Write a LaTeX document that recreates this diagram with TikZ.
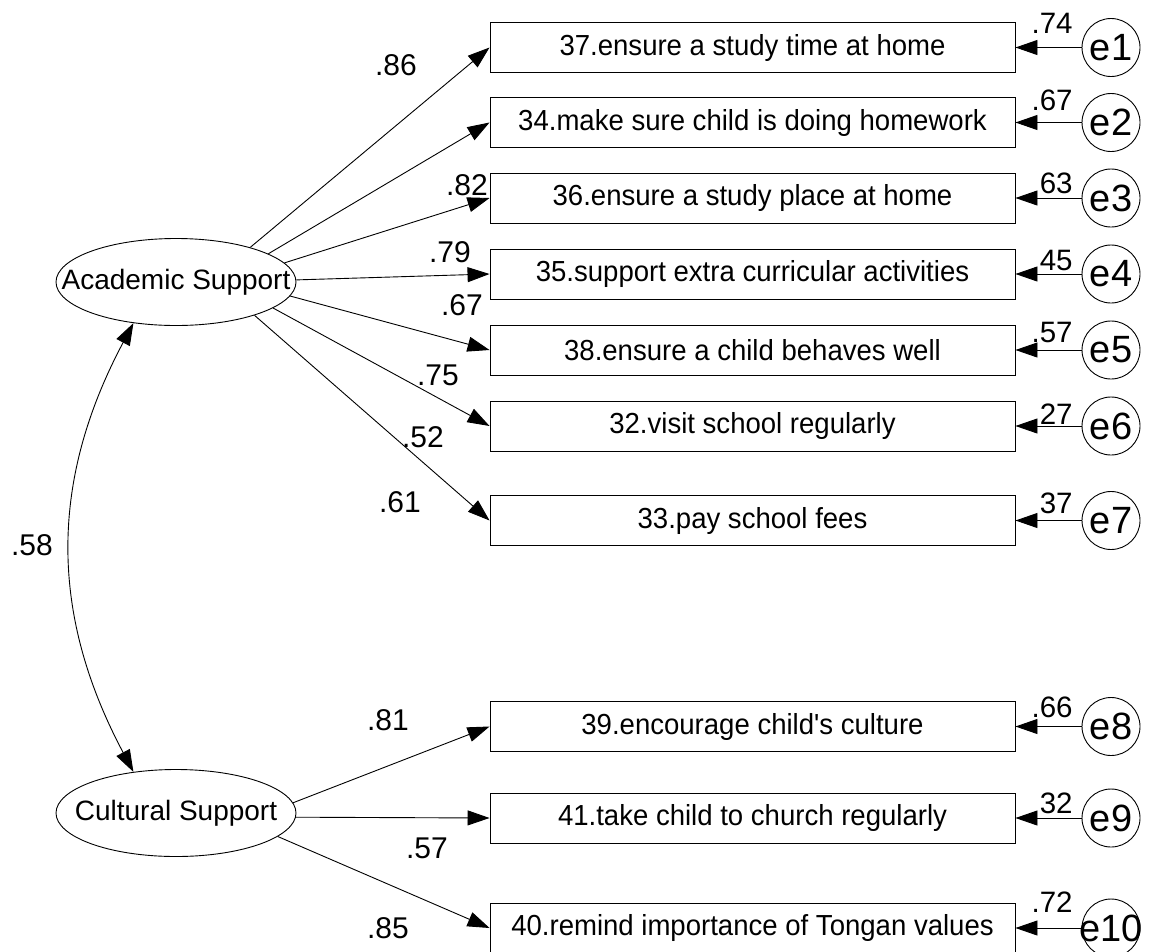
\documentclass[tikz,border=0pt]{standalone}
\usepackage{fontspec}
\setmainfont[Ligatures=TeXOff]{Liberation Sans}
\newfontfamily\itemfont[Ligatures=TeXOff,FakeStretch=0.95]{Liberation Sans}
\usetikzlibrary{arrows.meta,shapes.geometric}
\begin{document}
\begin{tikzpicture}[x=1pt,y=-1pt,
  line width=0.9pt,
  >={Triangle[length=22pt,width=15pt]},
  item/.style={draw, rectangle, minimum width=525pt, minimum height=50pt,
    inner sep=0pt, font=\itemfont\fontsize{29}{30}\selectfont},
  latent/.style={draw, ellipse, minimum width=240pt, minimum height=87pt, inner sep=0pt},
  lattext/.style={inner sep=0pt, font=\fontsize{28}{32}\selectfont},
  err/.style={draw, circle, minimum size=58pt, inner sep=0pt},
  errtext/.style={inner sep=0pt, font=\fontsize{38}{40}\selectfont},
  coef/.style={inner sep=0pt, font=\fontsize{30}{32}\selectfont},
  ecoef/.style={inner sep=0pt, anchor=base east, font=\fontsize{29.5}{32}\selectfont}]
\useasboundingbox (0,0) rectangle (1151,951);

% latent factors
\node[latent] (as) at (176,282) {};
\node[lattext] (ast) at (as) {Academic Support};
\node[latent] (cs) at (176,813) {};
\node[lattext] (cst) at (cs) {Cultural Support};

% observed items
\node[item] (b1)  at (752.5,47.5)  {37.ensure a study time at home};
\node[item] (b2)  at (752.5,122.5) {34.make sure child is doing homework};
\node[item] (b3)  at (752.5,198)   {36.ensure a study place at home};
\node[item] (b4)  at (752.5,274)   {35.support extra curricular activities};
\node[item] (b5)  at (752.5,350)   {38.ensure a child behaves well};
\node[item] (b6)  at (752.5,426)   {32.visit school regularly};
\node[item] (b7)  at (752.5,520.5) {33.pay school fees};
\node[item] (b8)  at (752.5,726.5) {39.encourage child's culture};
\node[item] (b9)  at (752.5,818)   {41.take child to church regularly};
\node[item] (b10) at (752.5,928)   {40.remind importance of Tongan values};

% error terms
\foreach \i/\y in {1/47.5,2/122.5,3/198,4/274,5/350,6/426,7/520.5,8/726.5,9/818,10/928}{
  \node[err] (e\i) at (1111,\y) {};
  \node[errtext] (e\i t) at (e\i) {e\i};
  \draw[->] (e\i) -- (b\i.east);
}

% loadings
\draw[->] (as.25)   -- (b1.west);
\draw[->] (as.17.5) -- (b2.west);
\draw[->] (as.10)   -- (b3.west);
\draw[->] (as.1.5)  -- (b4.west);
\draw[->] (as.-7.5) -- (b5.west);
\draw[->] (as.-15.5) -- (b6.west);
\draw[->] (as.-23)  -- (b7.west);
\draw[->] (cs.5.5)  -- (b8.west);
\draw[->] (cs.-2.4) -- (b9.west);
\draw[->] (cs.-13)  -- (b10.west);

% factor covariance
\draw[<->] (as.-136) .. controls +(-84,158) and +(-84,-158) .. (cs.136);

% loading coefficients
\node[coef] (l1)  at (396,65)  {.86};
\node[coef] (l3)  at (467,185) {.82};
\node[coef] (l4)  at (450,252) {.79};
\node[coef] (l5)  at (462,305) {.67};
\node[coef] (l6)  at (438,375) {.75};
\node[coef] (l7)  at (423,437) {.52};
\node[coef] (l7b) at (400,502) {.61};
\node[coef] (cov) at (32,545)  {.58};
\node[coef] (l8)  at (388,720) {.81};
\node[coef] (l9)  at (427,848) {.57};
\node[coef] (l10) at (388,928) {.85};

% error coefficients
\node[ecoef] (r1)  at (1073,33)  {.74};
\node[ecoef] (r2)  at (1073,110) {.67};
\node[ecoef] (r3)  at (1073,193) {63};
\node[ecoef] (r4)  at (1073,270) {45};
\node[ecoef] (r5)  at (1073,342) {.57};
\node[ecoef] (r6)  at (1073,424) {27};
\node[ecoef] (r7)  at (1073,513) {37};
\node[ecoef] (r8)  at (1073,717) {.66};
\node[ecoef] (r9)  at (1073,813) {32};
\node[ecoef] (r10) at (1073,912) {.72};
\end{tikzpicture}
\end{document}
